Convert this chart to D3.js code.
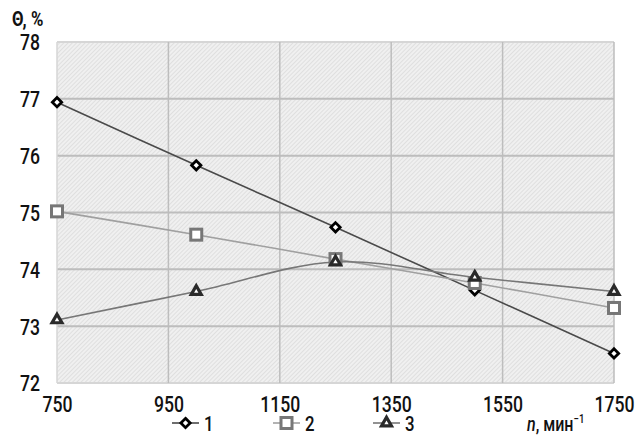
<!DOCTYPE html>
<html>
<head>
<meta charset="utf-8">
<script src="https://cdn.jsdelivr.net/npm/d3@7"></script>
<style>
  body { margin: 0; background: #fff; }
  svg text { font-family: Roboto, "Noto Sans", sans-serif; fill: #111; font-weight: 500; }
</style>
</head>
<body>
<div id="chart"></div>
<script>
// x values (n, min^-1) and tick labels
const speeds = [750, 1000, 1250, 1500, 1750];
const xTicks = [750, 950, 1150, 1350, 1550, 1750];
const yTicks = [72, 73, 74, 75, 76, 77, 78];

// series values (Θ, %)
const series1 = [76.94, 75.83, 74.74, 73.63, 72.52];
const series2 = [75.02, 74.61, 74.18, 73.76, 73.32];
const series3 = [73.11, 73.61, 74.13, 73.86, 73.61];
const seriesNames = ['1', '2', '3'];

const W = 642, H = 436;
const margin = { left: 57, right: 28, top: 42, bottom: 53 };
const NARROW = 0.8; // condensed look

const svg = d3.select('#chart').append('svg').attr('width', W).attr('height', H);

const x = d3.scaleLinear().domain([750, 1750]).range([margin.left, W - margin.right]);
const y = d3.scaleLinear().domain([72, 78]).range([H - margin.bottom, margin.top]);

// squeeze a text horizontally around its own x,y
function narrow(sel) {
  sel.each(function () {
    const t = d3.select(this);
    const tx = +t.attr('x') || 0, ty = +t.attr('y') || 0;
    t.attr('x', 0).attr('y', 0).attr('transform', `translate(${tx},${ty}) scale(${NARROW},1)`);
  });
}

// hatched background
const defs = svg.append('defs');
const pat = defs.append('pattern')
  .attr('id', 'hatch')
  .attr('patternUnits', 'userSpaceOnUse')
  .attr('width', 3).attr('height', 3)
  .attr('patternTransform', 'rotate(45)');
pat.append('rect').attr('width', 3).attr('height', 3).attr('fill', '#f0f0f0');
pat.append('line').attr('x1', 0).attr('y1', 0).attr('x2', 0).attr('y2', 3)
  .attr('stroke', '#d2d2d2').attr('stroke-width', 1.1);

svg.append('rect')
  .attr('x', x(750)).attr('y', y(78))
  .attr('width', x(1750) - x(750)).attr('height', y(72) - y(78))
  .attr('fill', 'url(#hatch)');

// grid
const grid = svg.append('g');
grid.selectAll('.hg').data(yTicks).enter().append('line')
  .attr('x1', x(750)).attr('x2', x(1750))
  .attr('y1', d => y(d)).attr('y2', d => y(d))
  .attr('stroke', d => d === 78 || d === 72 ? '#d6d6d6' : '#bdbdbd')
  .attr('stroke-width', 2);
grid.selectAll('.vg').data(xTicks).enter().append('line')
  .attr('y1', y(78)).attr('y2', y(72))
  .attr('x1', d => x(d)).attr('x2', d => x(d))
  .attr('stroke', d => d === 750 ? '#d6d6d6' : '#bdbdbd')
  .attr('stroke-width', 1.5);

// axes (labels only)
const yAxis = svg.append('g').attr('transform', `translate(${x(750)},0)`)
  .call(d3.axisLeft(y).tickValues(yTicks).tickSize(0).tickPadding(17).tickFormat(d3.format('d')));
yAxis.select('.domain').remove();
yAxis.selectAll('text').style('font-size', '22px').attr('dy', '0.36em').call(narrow);

const xAxis = svg.append('g').attr('transform', `translate(0,${y(72)})`)
  .call(d3.axisBottom(x).tickValues(xTicks).tickSize(0).tickPadding(13).tickFormat(d3.format('d')));
xAxis.select('.domain').remove();
xAxis.selectAll('text').style('font-size', '22px').attr('dy', '0.71em').call(narrow);

// titles
svg.append('text').attr('x', 12).attr('y', 26).style('font-size', '21px').style('font-weight', 'bold')
  .text('Θ, %').call(narrow);
const xl = svg.append('text').attr('x', 527).attr('y', 431).style('font-size', '20px');
xl.append('tspan').style('font-style', 'italic').text('n');
xl.append('tspan').text(', мин');
xl.append('tspan').attr('dy', -8).style('font-size', '12px').text('−1');
xl.call(narrow);

// lines
const line = d3.line().x((d, i) => x(speeds[i])).y(d => y(d)).curve(d3.curveCatmullRom.alpha(0.5));

const styles = [
  { data: series1, line: '#4a4a4a', mark: '#000', shape: 'diamond' },
  { data: series2, line: '#a0a0a0', mark: '#777', shape: 'square' },
  { data: series3, line: '#777777', mark: '#2a2a2a', shape: 'triangle' }
];

function drawMarker(g, shape, color, cx, cy) {
  if (shape === 'diamond') {
    g.append('path').attr('d', d3.symbol(d3.symbolDiamond2, 55)())
      .attr('transform', `translate(${cx},${cy})`)
      .attr('fill', '#fff').attr('stroke', color).attr('stroke-width', 2.8);
  } else if (shape === 'square') {
    g.append('rect').attr('x', cx - 5.5).attr('y', cy - 5.5).attr('width', 11).attr('height', 11)
      .attr('fill', '#fff').attr('stroke', color).attr('stroke-width', 3);
  } else {
    g.append('path').attr('d', d3.symbol(d3.symbolTriangle2, 70)())
      .attr('transform', `translate(${cx},${cy})`)
      .attr('fill', '#fff').attr('stroke', color).attr('stroke-width', 3.2);
  }
}

const plot = svg.append('g');
styles.forEach(s => {
  plot.append('path').datum(s.data).attr('d', line)
    .attr('fill', 'none').attr('stroke', s.line).attr('stroke-width', 1.6);
});
styles.forEach(s => {
  s.data.forEach((v, i) => drawMarker(plot, s.shape, s.mark, x(speeds[i]), y(v)));
});

// legend
const legendX = [172, 273, 373];
const legY = 423;
styles.forEach((s, i) => {
  const g = svg.append('g');
  g.append('line').attr('x1', legendX[i]).attr('x2', legendX[i] + 27)
    .attr('y1', legY).attr('y2', legY).attr('stroke', s.line).attr('stroke-width', 1.6);
  drawMarker(g, s.shape, s.mark, legendX[i] + 13.5, legY);
  g.append('text').attr('x', legendX[i] + 32).attr('y', legY + 8)
    .style('font-size', '21px').text(seriesNames[i]).call(narrow);
});
</script>
</body>
</html>
